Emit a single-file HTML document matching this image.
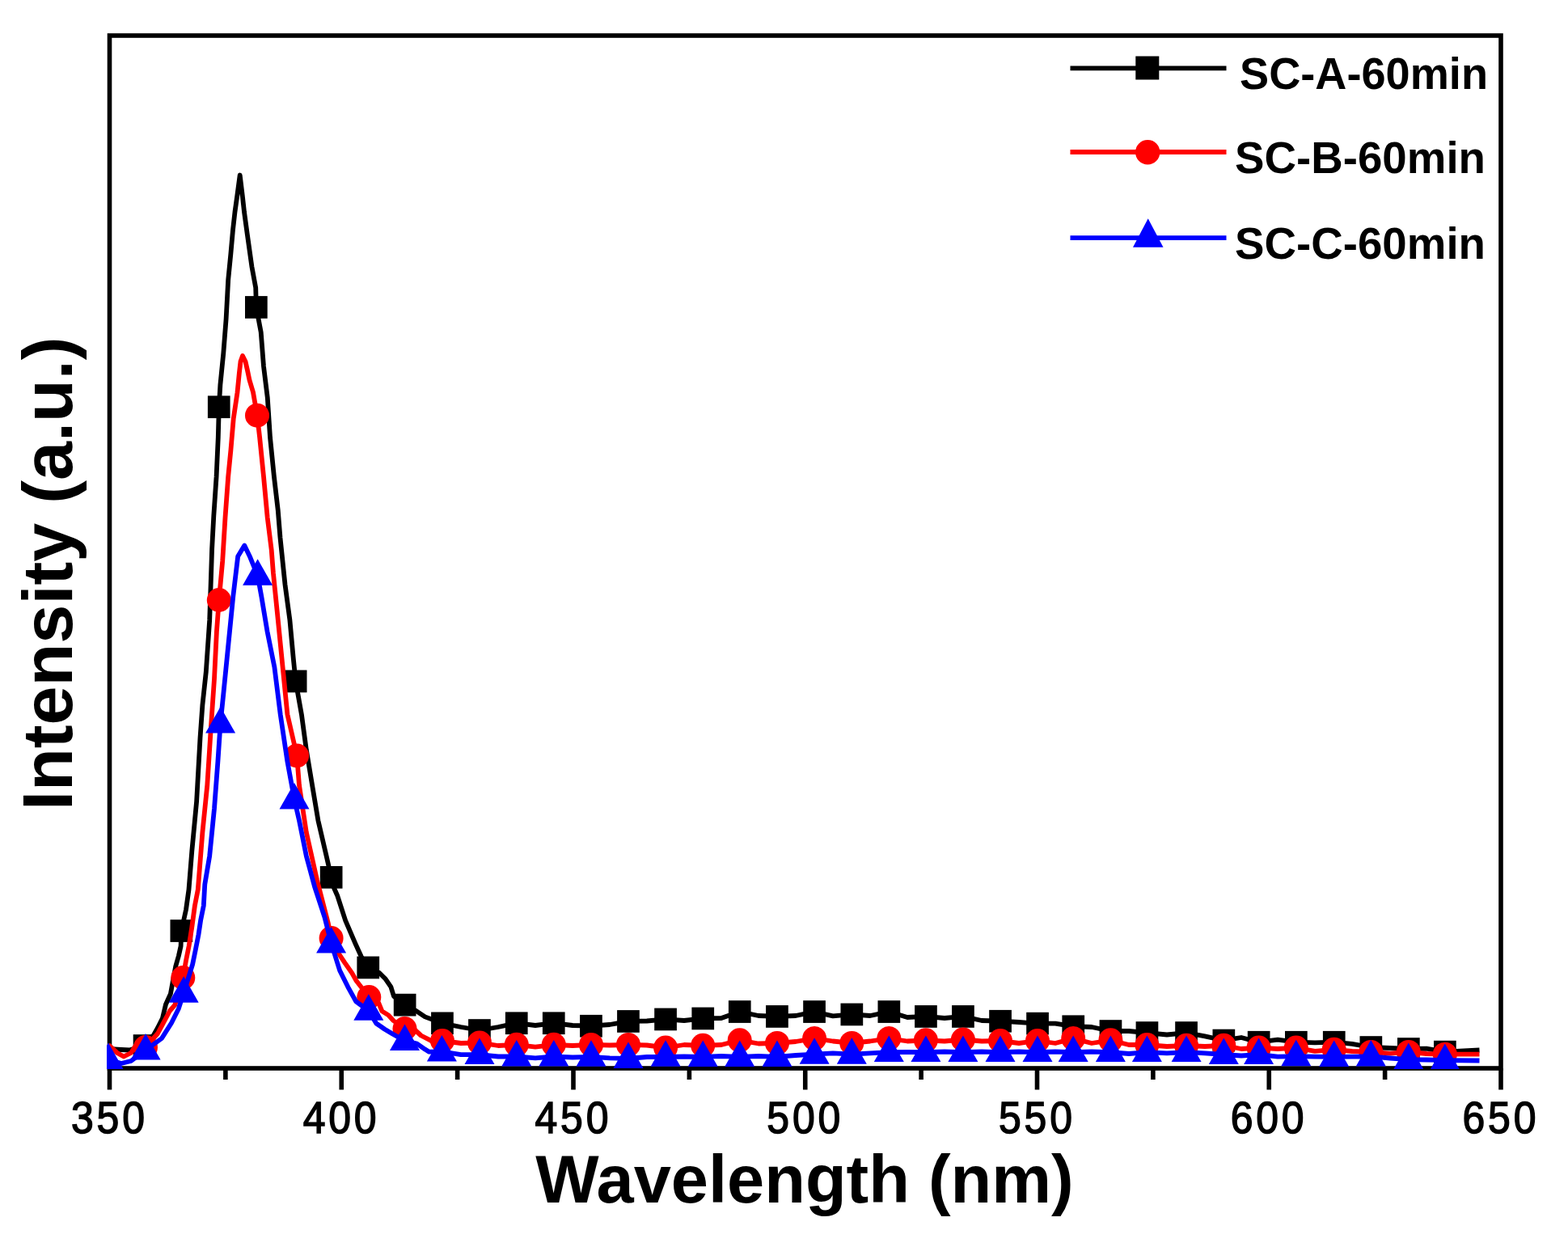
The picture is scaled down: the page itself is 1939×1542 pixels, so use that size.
<!DOCTYPE html>
<html><head><meta charset="utf-8"><title>PL spectra</title><style>html,body{margin:0;padding:0;background:#fff;overflow:hidden;}svg{display:block;}</style></head>
<body>
<svg width="1939" height="1542" viewBox="0 0 1939 1542">
<rect width="1939" height="1542" fill="#fff"/>
<defs><clipPath id="pc"><rect x="132" y="41" width="1727" height="1281"/></clipPath></defs>
<rect x="135.5" y="44.0" width="1720.5" height="1277.0" fill="none" stroke="#000" stroke-width="5.6"/>
<g stroke="#000" stroke-width="5.6"><line x1="135.50" y1="1321.0" x2="135.50" y2="1347.5"/><line x1="422.25" y1="1321.0" x2="422.25" y2="1347.5"/><line x1="709.00" y1="1321.0" x2="709.00" y2="1347.5"/><line x1="995.75" y1="1321.0" x2="995.75" y2="1347.5"/><line x1="1282.50" y1="1321.0" x2="1282.50" y2="1347.5"/><line x1="1569.25" y1="1321.0" x2="1569.25" y2="1347.5"/><line x1="1856.00" y1="1321.0" x2="1856.00" y2="1347.5"/><line x1="278.88" y1="1321.0" x2="278.88" y2="1335"/><line x1="565.62" y1="1321.0" x2="565.62" y2="1335"/><line x1="852.38" y1="1321.0" x2="852.38" y2="1335"/><line x1="1139.12" y1="1321.0" x2="1139.12" y2="1335"/><line x1="1425.88" y1="1321.0" x2="1425.88" y2="1335"/><line x1="1712.62" y1="1321.0" x2="1712.62" y2="1335"/></g>
<g clip-path="url(#pc)" stroke-linejoin="round">
<polyline points="134.0,1297.0 150.0,1298.0 160.0,1298.5 178.5,1293.0 190.0,1280.0 195.0,1271.0 201.0,1259.0 205.0,1242.0 210.9,1229.0 217.2,1195.0 220.9,1182.0 223.6,1170.0 224.3,1151.0 230.0,1125.0 233.5,1100.0 237.3,1052.6 243.1,991.3 247.5,912.5 250.4,871.7 254.8,830.9 259.2,766.7 262.1,679.2 264.3,637.9 267.6,589.2 269.8,540.6 270.8,503.3 272.4,475.7 276.3,436.8 279.6,394.6 282.2,346.0 285.4,313.5 288.0,284.3 290.5,262.0 293.3,242.0 296.7,216.5 299.8,242.0 302.0,262.0 305.5,287.6 311.4,329.7 316.2,355.7 316.9,380.0 322.7,410.8 326.0,453.0 330.8,491.9 334.0,540.6 338.9,589.2 343.8,631.4 346.5,665.0 352.5,722.9 358.4,766.7 362.7,813.4 365.6,842.5 372.9,883.4 378.8,927.1 386.1,970.9 393.4,1014.6 403.6,1058.4 409.6,1084.8 413.0,1098.0 417.1,1107.2 427.2,1138.4 439.9,1167.9 446.8,1183.0 455.3,1196.4 469.3,1203.2 476.4,1210.2 483.4,1220.3 487.0,1232.0 500.7,1242.6 515.1,1250.4 525.6,1257.4 547.0,1265.3 570.0,1270.0 593.0,1274.0 616.0,1270.0 638.8,1265.2 662.0,1268.0 684.8,1265.2 708.0,1268.0 731.0,1268.7 754.0,1267.0 777.0,1262.9 800.0,1262.5 823.1,1260.4 846.0,1262.0 869.2,1259.4 892.0,1259.0 914.7,1251.1 938.0,1256.0 961.0,1256.9 984.0,1256.0 1007.1,1251.1 1030.0,1256.4 1053.3,1254.4 1076.0,1256.0 1099.3,1251.1 1122.0,1258.0 1144.9,1256.9 1168.0,1259.0 1190.9,1256.9 1214.0,1262.0 1237.0,1262.7 1260.0,1264.0 1283.0,1265.6 1305.0,1265.7 1327.2,1269.2 1350.0,1270.0 1373.4,1275.0 1396.0,1275.0 1418.4,1277.1 1443.0,1279.5 1467.1,1277.1 1490.0,1281.4 1513.3,1286.5 1535.0,1283.0 1556.6,1288.7 1580.0,1285.7 1602.8,1288.7 1626.0,1289.3 1649.7,1288.7 1672.0,1290.8 1695.3,1295.0 1719.0,1296.0 1741.8,1297.0 1764.0,1296.7 1786.8,1300.6 1829.5,1298.5" fill="none" stroke="#000" stroke-width="5.8"/>
<g fill="#000"><rect x="164.7" y="1279.2" width="27.7" height="27.7"/><rect x="210.5" y="1137.2" width="27.7" height="27.7"/><rect x="256.9" y="489.4" width="27.7" height="27.7"/><rect x="303.0" y="366.1" width="27.7" height="27.7"/><rect x="351.8" y="828.6" width="27.7" height="27.7"/><rect x="395.8" y="1071.0" width="27.7" height="27.7"/><rect x="441.4" y="1182.6" width="27.7" height="27.7"/><rect x="486.8" y="1228.8" width="27.7" height="27.7"/><rect x="533.1" y="1251.5" width="27.7" height="27.7"/><rect x="579.1" y="1260.2" width="27.7" height="27.7"/><rect x="624.9" y="1251.4" width="27.7" height="27.7"/><rect x="670.9" y="1251.4" width="27.7" height="27.7"/><rect x="717.1" y="1254.9" width="27.7" height="27.7"/><rect x="763.1" y="1249.1" width="27.7" height="27.7"/><rect x="809.2" y="1246.6" width="27.7" height="27.7"/><rect x="855.4" y="1245.6" width="27.7" height="27.7"/><rect x="900.9" y="1237.2" width="27.7" height="27.7"/><rect x="947.1" y="1243.1" width="27.7" height="27.7"/><rect x="993.2" y="1237.2" width="27.7" height="27.7"/><rect x="1039.5" y="1240.6" width="27.7" height="27.7"/><rect x="1085.5" y="1237.2" width="27.7" height="27.7"/><rect x="1131.1" y="1243.1" width="27.7" height="27.7"/><rect x="1177.1" y="1243.1" width="27.7" height="27.7"/><rect x="1223.2" y="1248.9" width="27.7" height="27.7"/><rect x="1269.2" y="1251.8" width="27.7" height="27.7"/><rect x="1313.4" y="1255.4" width="27.7" height="27.7"/><rect x="1359.6" y="1261.2" width="27.7" height="27.7"/><rect x="1404.6" y="1263.2" width="27.7" height="27.7"/><rect x="1453.2" y="1263.2" width="27.7" height="27.7"/><rect x="1499.5" y="1272.7" width="27.7" height="27.7"/><rect x="1542.8" y="1274.9" width="27.7" height="27.7"/><rect x="1589.0" y="1274.9" width="27.7" height="27.7"/><rect x="1635.9" y="1274.9" width="27.7" height="27.7"/><rect x="1681.5" y="1281.2" width="27.7" height="27.7"/><rect x="1728.0" y="1283.2" width="27.7" height="27.7"/><rect x="1773.0" y="1286.8" width="27.7" height="27.7"/></g>
<polyline points="134.0,1292.0 145.0,1302.0 153.0,1306.5 162.0,1302.0 167.0,1294.0 180.0,1295.0 195.0,1278.0 210.0,1250.0 216.3,1242.6 226.3,1209.0 230.0,1188.1 233.6,1170.0 237.2,1147.2 240.9,1120.0 244.8,1100.0 250.4,1029.2 256.3,970.9 260.6,903.8 265.0,839.6 267.9,781.3 270.8,742.0 275.2,693.8 278.5,640.0 282.2,589.2 285.4,556.8 288.7,517.9 293.5,485.4 295.8,462.0 297.5,447.0 300.0,440.0 303.5,447.0 306.0,458.0 308.5,470.0 313.0,485.0 318.0,513.7 321.1,540.6 326.0,589.2 330.7,640.0 335.7,680.0 337.9,708.3 343.8,766.7 349.6,825.0 355.4,883.4 367.1,934.4 370.0,970.9 378.8,1029.2 391.9,1087.6 405.9,1142.0 409.6,1160.0 418.1,1178.0 426.1,1190.1 435.2,1203.2 440.2,1212.2 456.3,1233.0 468.3,1240.4 472.4,1250.4 480.4,1255.4 486.4,1262.0 500.5,1272.0 513.6,1274.0 520.6,1280.5 530.7,1285.6 538.7,1290.6 547.0,1287.0 570.0,1290.0 593.0,1289.4 616.0,1293.0 638.8,1291.8 662.0,1294.6 684.8,1291.8 708.0,1293.0 731.0,1291.9 754.0,1292.5 777.0,1291.9 800.0,1292.5 823.1,1295.5 846.0,1292.0 869.2,1292.8 892.0,1292.0 914.7,1286.3 938.0,1290.5 961.0,1289.9 984.0,1288.0 1007.1,1284.1 1030.0,1287.5 1053.3,1289.9 1076.0,1287.5 1099.3,1284.1 1122.0,1287.5 1144.9,1286.3 1168.0,1287.5 1190.9,1285.5 1214.0,1287.5 1237.0,1287.0 1260.0,1290.0 1283.0,1287.0 1305.0,1290.0 1327.2,1284.1 1350.0,1290.0 1373.4,1286.3 1396.0,1292.0 1418.4,1292.0 1443.0,1294.0 1467.1,1292.8 1490.0,1294.0 1513.3,1292.8 1535.0,1297.0 1556.6,1295.6 1580.0,1297.0 1602.8,1295.6 1626.0,1299.8 1649.7,1297.8 1672.0,1300.0 1695.3,1300.9 1719.0,1302.7 1741.8,1300.9 1764.0,1303.0 1786.8,1303.7 1829.5,1303.6" fill="none" stroke="#f00" stroke-width="5.8"/>
<g fill="#f00"><circle cx="180.0" cy="1295.0" r="15"/><circle cx="226.3" cy="1209.0" r="15"/><circle cx="270.8" cy="742.0" r="15"/><circle cx="318.0" cy="513.7" r="15"/><circle cx="367.1" cy="934.4" r="15"/><circle cx="409.6" cy="1160.0" r="15"/><circle cx="456.3" cy="1233.0" r="15"/><circle cx="500.5" cy="1272.0" r="15"/><circle cx="547.0" cy="1287.0" r="15"/><circle cx="593.0" cy="1289.4" r="15"/><circle cx="638.8" cy="1291.8" r="15"/><circle cx="684.8" cy="1291.8" r="15"/><circle cx="731.0" cy="1291.9" r="15"/><circle cx="777.0" cy="1291.9" r="15"/><circle cx="823.1" cy="1295.5" r="15"/><circle cx="869.2" cy="1292.8" r="15"/><circle cx="914.7" cy="1286.3" r="15"/><circle cx="961.0" cy="1289.9" r="15"/><circle cx="1007.1" cy="1284.1" r="15"/><circle cx="1053.3" cy="1289.9" r="15"/><circle cx="1099.3" cy="1284.1" r="15"/><circle cx="1144.9" cy="1286.3" r="15"/><circle cx="1190.9" cy="1285.5" r="15"/><circle cx="1237.0" cy="1287.0" r="15"/><circle cx="1283.0" cy="1287.0" r="15"/><circle cx="1327.2" cy="1284.1" r="15"/><circle cx="1373.4" cy="1286.3" r="15"/><circle cx="1418.4" cy="1292.0" r="15"/><circle cx="1467.1" cy="1292.8" r="15"/><circle cx="1513.3" cy="1292.8" r="15"/><circle cx="1556.6" cy="1295.6" r="15"/><circle cx="1602.8" cy="1295.6" r="15"/><circle cx="1649.7" cy="1297.8" r="15"/><circle cx="1695.3" cy="1300.9" r="15"/><circle cx="1741.8" cy="1300.9" r="15"/><circle cx="1786.8" cy="1303.7" r="15"/></g>
<polyline points="133.0,1310.0 150.0,1315.0 162.0,1312.0 180.1,1298.5 200.0,1284.0 212.0,1265.0 220.9,1247.2 227.2,1227.7 238.1,1192.7 241.8,1174.5 245.4,1156.3 248.1,1138.2 251.8,1120.0 253.3,1093.4 259.2,1058.4 265.0,1000.0 269.4,941.7 272.6,894.5 276.7,854.2 282.5,795.9 288.3,737.5 294.2,687.9 302.3,674.5 308.8,687.9 318.6,711.8 323.3,737.5 330.6,781.3 339.4,825.0 346.7,883.4 355.4,941.7 364.0,988.5 370.0,1014.6 378.8,1058.4 389.0,1096.3 401.4,1134.0 409.6,1166.5 420.1,1200.0 430.2,1220.3 440.2,1238.3 455.8,1249.8 465.3,1265.5 475.4,1272.5 485.4,1278.5 500.5,1287.0 515.6,1290.6 525.6,1297.6 530.7,1300.7 546.4,1300.4 570.0,1304.2 593.0,1304.1 616.0,1306.5 638.8,1306.5 662.0,1308.4 684.8,1306.5 708.0,1307.5 731.0,1306.8 754.0,1308.3 777.0,1309.0 800.0,1307.0 823.1,1306.8 846.0,1306.5 869.2,1306.9 892.0,1306.0 914.7,1306.9 938.0,1306.0 961.0,1306.9 984.0,1305.0 1007.1,1303.7 1030.0,1302.3 1053.3,1303.7 1076.0,1302.3 1099.3,1301.1 1122.0,1301.0 1144.9,1301.1 1168.0,1300.5 1190.9,1301.1 1214.0,1300.5 1237.0,1301.1 1260.0,1300.5 1283.0,1301.1 1305.0,1300.5 1327.2,1301.1 1350.0,1300.5 1373.4,1301.1 1396.0,1303.0 1418.4,1301.1 1443.0,1302.3 1467.1,1301.1 1490.0,1302.3 1513.3,1304.0 1535.0,1305.5 1556.6,1304.0 1580.0,1306.6 1602.8,1306.2 1626.0,1306.6 1649.7,1306.9 1672.0,1306.6 1695.3,1306.4 1719.0,1308.5 1741.8,1310.1 1764.0,1310.5 1786.8,1311.1 1829.5,1311.5" fill="none" stroke="#00f" stroke-width="5.8"/>
<g fill="#00f"><polygon points="134.0,1289.5 152.5,1322.0 115.5,1322.0"/><polygon points="180.1,1278.0 198.6,1310.5 161.6,1310.5"/><polygon points="227.2,1207.2 245.7,1239.7 208.7,1239.7"/><polygon points="272.6,874.0 291.1,906.5 254.1,906.5"/><polygon points="318.6,691.3 337.1,723.8 300.1,723.8"/><polygon points="364.0,968.0 382.5,1000.5 345.5,1000.5"/><polygon points="409.6,1146.0 428.1,1178.5 391.1,1178.5"/><polygon points="455.8,1229.3 474.3,1261.8 437.3,1261.8"/><polygon points="500.5,1266.5 519.0,1299.0 482.0,1299.0"/><polygon points="546.4,1279.9 564.9,1312.4 527.9,1312.4"/><polygon points="593.0,1283.6 611.5,1316.1 574.5,1316.1"/><polygon points="638.8,1286.0 657.3,1318.5 620.3,1318.5"/><polygon points="684.8,1286.0 703.3,1318.5 666.3,1318.5"/><polygon points="731.0,1286.3 749.5,1318.8 712.5,1318.8"/><polygon points="777.0,1288.5 795.5,1321.0 758.5,1321.0"/><polygon points="823.1,1286.3 841.6,1318.8 804.6,1318.8"/><polygon points="869.2,1286.4 887.7,1318.9 850.7,1318.9"/><polygon points="914.7,1286.4 933.2,1318.9 896.2,1318.9"/><polygon points="961.0,1286.4 979.5,1318.9 942.5,1318.9"/><polygon points="1007.1,1283.2 1025.6,1315.7 988.6,1315.7"/><polygon points="1053.3,1283.2 1071.8,1315.7 1034.8,1315.7"/><polygon points="1099.3,1280.6 1117.8,1313.1 1080.8,1313.1"/><polygon points="1144.9,1280.6 1163.4,1313.1 1126.4,1313.1"/><polygon points="1190.9,1280.6 1209.4,1313.1 1172.4,1313.1"/><polygon points="1237.0,1280.6 1255.5,1313.1 1218.5,1313.1"/><polygon points="1283.0,1280.6 1301.5,1313.1 1264.5,1313.1"/><polygon points="1327.2,1280.6 1345.7,1313.1 1308.7,1313.1"/><polygon points="1373.4,1280.6 1391.9,1313.1 1354.9,1313.1"/><polygon points="1418.4,1280.6 1436.9,1313.1 1399.9,1313.1"/><polygon points="1467.1,1280.6 1485.6,1313.1 1448.6,1313.1"/><polygon points="1513.3,1283.5 1531.8,1316.0 1494.8,1316.0"/><polygon points="1556.6,1283.5 1575.1,1316.0 1538.1,1316.0"/><polygon points="1602.8,1285.7 1621.3,1318.2 1584.3,1318.2"/><polygon points="1649.7,1286.4 1668.2,1318.9 1631.2,1318.9"/><polygon points="1695.3,1285.9 1713.8,1318.4 1676.8,1318.4"/><polygon points="1741.8,1289.6 1760.3,1322.1 1723.3,1322.1"/><polygon points="1786.8,1290.6 1805.3,1323.1 1768.3,1323.1"/></g>
</g>
<g font-family="'Liberation Sans', Arial, Helvetica, sans-serif" font-size="55.5" fill="#000" stroke="#000" stroke-width="1.5"><text transform="translate(133.5,1401.2) scale(0.9,1)" text-anchor="middle" textLength="101" lengthAdjust="spacing">350</text><text transform="translate(420.2,1401.2) scale(0.9,1)" text-anchor="middle" textLength="101" lengthAdjust="spacing">400</text><text transform="translate(707.0,1401.2) scale(0.9,1)" text-anchor="middle" textLength="101" lengthAdjust="spacing">450</text><text transform="translate(993.8,1401.2) scale(0.9,1)" text-anchor="middle" textLength="101" lengthAdjust="spacing">500</text><text transform="translate(1280.5,1401.2) scale(0.9,1)" text-anchor="middle" textLength="101" lengthAdjust="spacing">550</text><text transform="translate(1567.2,1401.2) scale(0.9,1)" text-anchor="middle" textLength="101" lengthAdjust="spacing">600</text><text transform="translate(1854.0,1401.2) scale(0.9,1)" text-anchor="middle" textLength="101" lengthAdjust="spacing">650</text></g>
<text x="995" y="1486.5" text-anchor="middle" font-family="'Liberation Sans', Arial, Helvetica, sans-serif" font-weight="bold" font-size="83" fill="#000">Wavelength (nm)</text>
<text transform="translate(89,709.2) rotate(-90)" text-anchor="middle" font-family="'Liberation Sans', Arial, Helvetica, sans-serif" font-weight="bold" font-size="86.4" fill="#000">Intensity (a.u.)</text>
<g stroke-width="5.8">
<line x1="1323.5" y1="84.3" x2="1516.5" y2="84.3" stroke="#000"/>
<line x1="1323.5" y1="188" x2="1516.5" y2="188" stroke="#f00"/>
<line x1="1323.5" y1="294.1" x2="1516.5" y2="294.1" stroke="#00f"/>
</g>
<rect x="1404.3" y="69.5" width="29" height="29" fill="#000"/>
<circle cx="1419.2" cy="188.3" r="15.2" fill="#f00"/>
<polygon points="1419.7,270.3 1438.5,305.7 1401,305.7" fill="#00f"/>
<g font-family="'Liberation Sans', Arial, Helvetica, sans-serif" font-weight="bold" font-size="55" fill="#000">
<text x="1533" y="110" textLength="307" lengthAdjust="spacingAndGlyphs">SC-A-60min</text>
<text x="1527" y="214" textLength="310" lengthAdjust="spacingAndGlyphs">SC-B-60min</text>
<text x="1527" y="320" textLength="310" lengthAdjust="spacingAndGlyphs">SC-C-60min</text>
</g>
</svg>
</body></html>
